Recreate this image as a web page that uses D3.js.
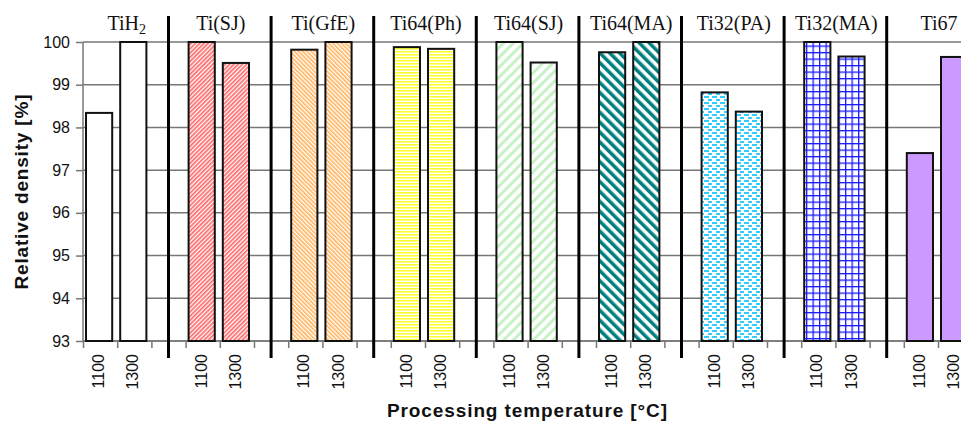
<!DOCTYPE html>
<html>
<head>
<meta charset="utf-8">
<script src="https://cdn.jsdelivr.net/npm/d3@7"></script>
<style>
    body { margin: 0; background: #fff; }
    .axis text { font-family: "Liberation Sans", Arial, sans-serif; font-size: 16px; fill: #111; }
    .axis path, .axis line { stroke: #777; stroke-width: 1.5; }
    .title { font-family: "Liberation Sans", Arial, sans-serif; font-weight: bold; font-size: 19px; fill: #111; }
    .group-label { font-family: "Liberation Serif", "Times New Roman", serif; font-size: 20px; fill: #111; }
</style>
</head>
<body>
<script>
const groups = ['TiH2', 'Ti(SJ)', 'Ti(GfE)', 'Ti64(Ph)', 'Ti64(SJ)', 'Ti64(MA)', 'Ti32(PA)', 'Ti32(MA)', 'Ti67'];
const temperatures = ['1100', '1300'];
const density1100 = [98.34, 100.0, 99.82, 99.88, 100.0, 99.76, 98.82, 100.0, 97.4];
const density1300 = [100.0, 99.51, 100.0, 99.84, 99.52, 100.0, 98.37, 99.66, 99.65];
const yTicks = [93, 94, 95, 96, 97, 98, 99, 100];

function draw() {
    const width = 961, height = 422;
    const left = 83, top = 42, bottom = 341;
    const slotW = 34.2;
    const nSlots = groups.length * 3;

    const svg = d3.select('body')
        .append('svg')
        .attr('width', width)
        .attr('height', height);

    // fill patterns
    const defs = svg.append('defs');
    function stripes(id, angle, period, stripe, color, bg) {
        const p = defs.append('pattern')
            .attr('id', id)
            .attr('patternUnits', 'userSpaceOnUse')
            .attr('width', period)
            .attr('height', period)
            .attr('patternTransform', 'rotate(' + angle + ')');
        p.append('rect').attr('width', period).attr('height', period).attr('fill', bg);
        p.append('rect').attr('width', stripe).attr('height', period).attr('fill', color);
    }
    stripes('p-red', 45, 3, 1.7, '#ff6a6a', '#fff');
    stripes('p-orange', -45, 3, 1.6, '#ffb35c', '#fff');
    stripes('p-yellow', 90, 3, 1.6, '#ffff33', '#fff');
    stripes('p-green', 45, 7, 3, '#c6f2c6', '#fff');
    stripes('p-teal', -45, 7, 3.5, '#007f7f', '#fff');

    const dash = defs.append('pattern')
        .attr('id', 'p-cyan')
        .attr('patternUnits', 'userSpaceOnUse')
        .attr('width', 8).attr('height', 6);
    dash.append('rect').attr('width', 8).attr('height', 6).attr('fill', '#fff');
    dash.append('rect').attr('x', 0).attr('y', 0).attr('width', 5).attr('height', 2).attr('fill', '#33ccff');
    dash.append('rect').attr('x', 4).attr('y', 3).attr('width', 5).attr('height', 2).attr('fill', '#33ccff');

    const grid = defs.append('pattern')
        .attr('id', 'p-blue')
        .attr('patternUnits', 'userSpaceOnUse')
        .attr('width', 6.5).attr('height', 6.5);
    grid.append('rect').attr('width', 6.5).attr('height', 6.5).attr('fill', '#fff');
    grid.append('rect').attr('width', 1.3).attr('height', 6.5).attr('fill', '#1a1aff');
    grid.append('rect').attr('width', 6.5).attr('height', 1.3).attr('fill', '#1a1aff');

    const fills = ['#fff', 'url(#p-red)', 'url(#p-orange)', 'url(#p-yellow)', 'url(#p-green)',
        'url(#p-teal)', 'url(#p-cyan)', 'url(#p-blue)', '#cc99ff'];

    const slots = [];
    groups.forEach(function(g) {
        slots.push(g + '|1100', g + '|1300', g + '|gap');
    });

    const x = d3.scaleBand()
        .domain(slots)
        .range([left, left + nSlots * slotW]);

    const xIndex = d3.scaleLinear()
        .domain([0, nSlots])
        .range([left, left + nSlots * slotW]);

    const y = d3.scaleLinear()
        .domain([93, 100])
        .range([bottom, top]);

    // horizontal gridlines
    svg.append('g')
        .selectAll('line')
        .data(yTicks)
        .enter()
        .append('line')
        .attr('x1', left)
        .attr('x2', width)
        .attr('y1', function(d) { return y(d); })
        .attr('y2', function(d) { return y(d); })
        .attr('stroke', '#777')
        .attr('stroke-width', 1.5);

    const yAxis = d3.axisLeft(y)
        .tickValues(yTicks)
        .tickFormat(d3.format('d'))
        .tickSize(7)
        .tickPadding(6);

    svg.append('g')
        .attr('class', 'y axis')
        .attr('transform', 'translate(' + left + ',0)')
        .call(yAxis)
        .call(function(g) { g.select('.domain').attr('d', 'M0,' + top + 'V' + bottom); });

    // boundary ticks along the x axis
    const xTickAxis = d3.axisBottom(xIndex)
        .tickValues(d3.range(0, nSlots + 1))
        .tickSize(7)
        .tickFormat('');

    svg.append('g')
        .attr('class', 'x axis')
        .attr('transform', 'translate(0,' + bottom + ')')
        .call(xTickAxis)
        .call(function(g) { g.select('.domain').attr('d', 'M' + left + ',0H' + (left + nSlots * slotW)); });

    // rotated temperature labels
    const labelled = slots.filter(function(s) { return s.split('|')[1] !== 'gap'; });
    svg.append('g')
        .attr('class', 'axis')
        .selectAll('text')
        .data(labelled)
        .enter()
        .append('text')
        .attr('transform', function(d) {
            return 'translate(' + (x(d) + x.bandwidth() / 2 - 1.5) + ',354) rotate(-90)';
        })
        .attr('text-anchor', 'end')
        .attr('dy', '0.35em')
        .text(function(d) { return d.split('|')[1]; });

    // bars
    const bars = [];
    groups.forEach(function(g, i) {
        bars.push({ slot: g + '|' + temperatures[0], value: density1100[i], group: i });
        bars.push({ slot: g + '|' + temperatures[1], value: density1300[i], group: i });
    });

    svg.append('g')
        .selectAll('rect')
        .data(bars)
        .enter()
        .append('rect')
        .attr('x', function(d) { return x(d.slot) + 3; })
        .attr('width', x.bandwidth() - 8)
        .attr('y', function(d) { return y(d.value); })
        .attr('height', function(d) { return y(93) - y(d.value); })
        .attr('fill', function(d) { return fills[d.group]; })
        .attr('stroke', '#111')
        .attr('stroke-width', 2);

    // thick group separators
    const seps = d3.range(0, groups.length - 1).map(function(i) { return xIndex(3 * i + 2.5); });
    svg.append('g')
        .selectAll('line')
        .data(seps)
        .enter()
        .append('line')
        .attr('x1', function(d) { return d; })
        .attr('x2', function(d) { return d; })
        .attr('y1', 16)
        .attr('y2', 358)
        .attr('stroke', '#000')
        .attr('stroke-width', 3);

    // group labels
    const labels = svg.append('g')
        .selectAll('text')
        .data(groups)
        .enter()
        .append('text')
        .attr('class', 'group-label')
        .attr('text-anchor', 'middle')
        .attr('x', function(d, i) {
            const a = i === 0 ? left : seps[i - 1];
            const b = i < seps.length ? seps[i] : a + 3 * slotW;
            return (a + b) / 2 + 1;
        })
        .attr('y', 30);

    labels.each(function(d) {
        const m = d.match(/^(.*H)(\d)$/);
        const t = d3.select(this);
        if (m) {
            t.append('tspan').text(m[1]);
            t.append('tspan').attr('dy', 4).attr('font-size', '14px').text(m[2]);
        } else {
            t.text(d);
        }
    });

    svg.append('text')
        .attr('class', 'title')
        .attr('text-anchor', 'middle')
        .attr('x', 527)
        .attr('y', 417)
        .attr('textLength', 280)
        .attr('lengthAdjust', 'spacing')
        .text('Processing temperature [°C]');

    svg.append('text')
        .attr('class', 'title')
        .attr('text-anchor', 'middle')
        .attr('transform', 'translate(28,192) rotate(-90)')
        .attr('textLength', 195)
        .attr('lengthAdjust', 'spacing')
        .text('Relative density [%]');
}

draw();
</script>
</body>
</html>
